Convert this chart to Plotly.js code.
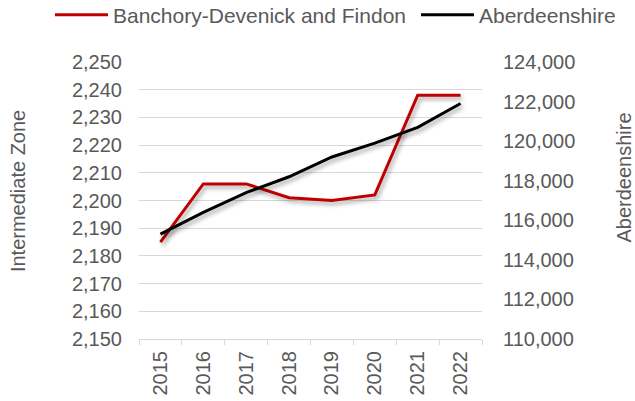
<!DOCTYPE html>
<html>
<head>
<meta charset="utf-8">
<script src="https://cdn.plot.ly/plotly-3.0.1.min.js"></script>
<style>
  html, body { margin: 0; padding: 0; background: #fff; }
  #chart { width: 635px; height: 401px; }
  .scatterlayer .trace path.js-line { filter: drop-shadow(2px 3px 2px rgba(0,0,0,0.35)); }
</style>
</head>
<body>
<div id="chart"></div>
<script>
const years = ['2015', '2016', '2017', '2018', '2019', '2020', '2021', '2022'];
const banchory = [2185, 2206, 2206, 2201, 2200, 2202, 2238, 2238];
const aberdeenshire = [115300, 116400, 117400, 118200, 119200, 119900, 120700, 121900];
const seriesNames = ['Banchory-Devenick and Findon', 'Aberdeenshire'];
const leftTitle = 'Intermediate Zone';
const rightTitle = 'Aberdeenshire';

const FONT = 'Liberation Sans, Arial, sans-serif';
const GREY = '#595959';

const traces = [
  { x: years, y: banchory, name: seriesNames[0], type: 'scatter', mode: 'lines',
    line: { color: '#c00000', width: 3 }, yaxis: 'y', legend: 'legend' },
  { x: years, y: aberdeenshire, name: seriesNames[1], type: 'scatter', mode: 'lines',
    line: { color: '#000000', width: 3 }, yaxis: 'y2', legend: 'legend2' }
];

const legendBase = {
  orientation: 'h', xref: 'container', yref: 'container',
  xanchor: 'left', yanchor: 'middle', y: (401 - 15) / 401,
  font: { family: FONT, size: 21, color: GREY },
  itemwidth: 53, bgcolor: 'rgba(0,0,0,0)'
};

const layout = {
  width: 635, height: 401,
  margin: { l: 139, r: 153, t: 62, b: 62, autoexpand: false },
  paper_bgcolor: '#fff', plot_bgcolor: '#fff',
  font: { family: FONT, size: 20, color: GREY },
  showlegend: true,
  legend: Object.assign({}, legendBase, { x: 50 / 635 }),
  legend2: Object.assign({}, legendBase, { x: 416 / 635 }),
  xaxis: {
    type: 'category', range: [-0.5, 7.5], tickangle: -90,
    tickson: 'boundaries', ticks: 'outside', ticklen: 5, tickcolor: '#d9d9d9',
    showline: true, linecolor: '#d9d9d9', linewidth: 1, showgrid: false,
    tickfont: { family: FONT, size: 20, color: GREY }, ticklabelstandoff: 3
  },
  yaxis: {
    range: [2150, 2250], dtick: 10, tickformat: ',d',
    showgrid: true, gridcolor: '#d9d9d9', gridwidth: 1, zeroline: false,
    showline: false, ticks: '', ticklabelstandoff: 16,
    tickfont: { family: FONT, size: 20, color: GREY }
  },
  yaxis2: {
    overlaying: 'y', side: 'right',
    range: [110000, 124000], dtick: 2000, tickformat: ',d',
    showgrid: false, zeroline: false, showline: false, ticks: '', ticklabelstandoff: 20,
    tickfont: { family: FONT, size: 20, color: GREY }
  },
  annotations: [
    { text: leftTitle, xref: 'paper', yref: 'paper', x: -0.3528, y: 0.534,
      textangle: -90, showarrow: false, xanchor: 'center', yanchor: 'middle',
      font: { family: FONT, size: 20, color: GREY } },
    { text: rightTitle, xref: 'paper', yref: 'paper', x: 1.414, y: 0.583,
      textangle: -90, showarrow: false, xanchor: 'center', yanchor: 'middle',
      font: { family: FONT, size: 20, color: GREY } }
  ]
};

Plotly.newPlot('chart', traces, layout, { displayModeBar: false, staticPlot: true });
</script>
</body>
</html>
